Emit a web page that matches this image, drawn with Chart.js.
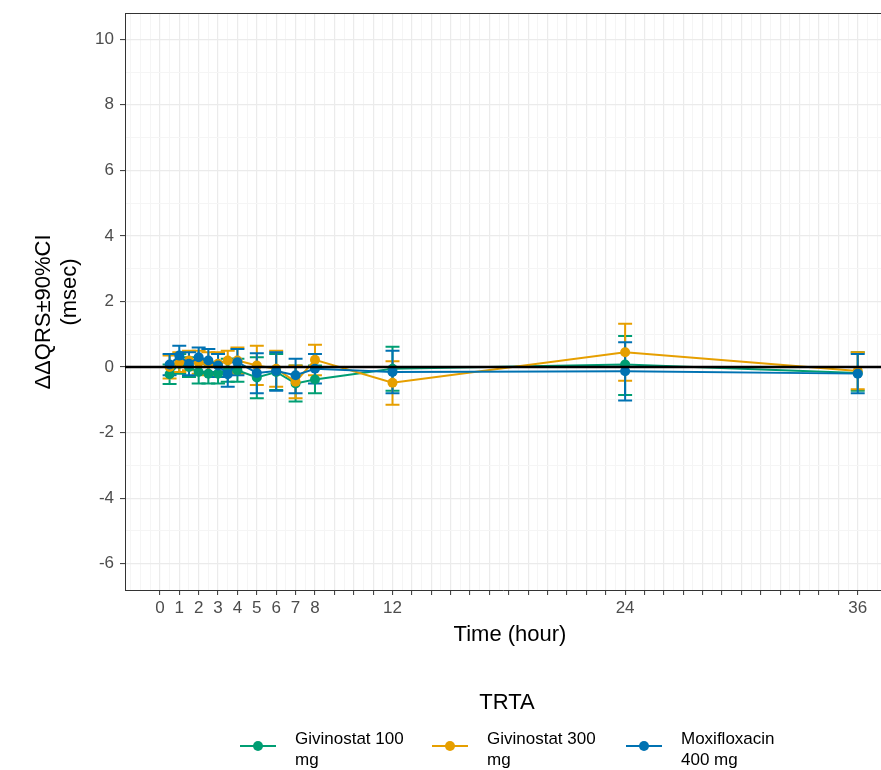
<!DOCTYPE html>
<html>
<head>
<meta charset="utf-8">
<script src="https://cdn.jsdelivr.net/npm/chart.js@4.4.1/dist/chart.umd.min.js"></script>
<style>
  body { margin: 0; background: #fff; }
  canvas { display: block; }
</style>
</head>
<body>
<canvas id="qrsChart" width="881" height="770"></canvas>
<script>
// time points (hour)
var times = [0.5, 1, 1.5, 2, 2.5, 3, 3.5, 4, 5, 6, 7, 8, 12, 24, 36];
var xTickLabels = [0, 1, 2, 3, 4, 5, 6, 7, 8, 12, 24, 36];
var yTickLabels = [-6, -4, -2, 0, 2, 4, 6, 8, 10];

// Givinostat 100 mg
var giv100Mean = [-0.22, 0.10, 0.00, -0.15, -0.20, -0.20, -0.10, -0.10, -0.32, -0.15, -0.50, -0.38, -0.05, 0.08, -0.18];
var giv100Lo   = [-0.52, -0.20, -0.30, -0.50, -0.50, -0.50, -0.45, -0.45, -0.95, -0.70, -1.05, -0.80, -0.72, -0.85, -0.72];
var giv100Hi   = [0.08, 0.40, 0.30, 0.20, 0.10, 0.15, 0.25, 0.25, 0.30, 0.40, 0.05, 0.05, 0.62, 0.95, 0.45];

// Givinostat 300 mg
var giv300Mean = [0.00, 0.15, 0.20, 0.15, 0.10, 0.10, 0.20, 0.20, 0.05, -0.05, -0.45, 0.22, -0.48, 0.45, -0.12];
var giv300Lo   = [-0.35, -0.15, -0.10, -0.20, -0.25, -0.20, -0.15, -0.20, -0.55, -0.60, -0.95, -0.25, -1.15, -0.42, -0.68];
var giv300Hi   = [0.35, 0.45, 0.50, 0.50, 0.45, 0.45, 0.50, 0.60, 0.65, 0.50, 0.05, 0.68, 0.18, 1.32, 0.45];

// Moxifloxacin 400 mg
var moxiMean = [0.08, 0.35, 0.10, 0.30, 0.20, 0.05, -0.22, 0.15, -0.18, -0.12, -0.25, -0.05, -0.15, -0.13, -0.20];
var moxiLo   = [-0.25, 0.05, -0.25, 0.00, -0.15, -0.30, -0.60, -0.25, -0.80, -0.72, -0.80, -0.50, -0.80, -1.02, -0.80];
var moxiHi   = [0.40, 0.65, 0.45, 0.60, 0.55, 0.40, 0.15, 0.55, 0.42, 0.45, 0.25, 0.40, 0.50, 0.76, 0.40];

var seriesNames = [['Givinostat 100', 'mg'], ['Givinostat 300', 'mg'], ['Moxifloxacin', '400 mg']];
var seriesColors = ['#009E73', '#E69F00', '#0072B2'];

var capHalf = 0.36;
var textFont = '"Liberation Sans", Arial, sans-serif';

function toPoints(vals) {
    return times.map(function (t, i) { return { x: t, y: vals[i] }; });
}

function makeSeries(idx, mean, lo, hi) {
    return {
        label: seriesNames[idx].join(' '),
        data: toPoints(mean),
        lo: lo,
        hi: hi,
        borderColor: seriesColors[idx],
        backgroundColor: seriesColors[idx],
        borderWidth: 2,
        pointRadius: 5,
        pointHoverRadius: 5,
        pointBorderWidth: 0,
        tension: 0,
        order: 3 - idx
    };
}

// error bars drawn under the lines and points
var errorBars = {
    id: 'errorBars',
    beforeDatasetsDraw: function (chart) {
        var ctx = chart.ctx, x = chart.scales.x, y = chart.scales.y;
        ctx.save();
        ctx.lineWidth = 2;
        chart.data.datasets.forEach(function (ds) {
            ctx.strokeStyle = ds.borderColor;
            ds.data.forEach(function (p, i) {
                var px = x.getPixelForValue(p.x);
                var x0 = x.getPixelForValue(p.x - capHalf);
                var x1 = x.getPixelForValue(p.x + capHalf);
                var yl = y.getPixelForValue(ds.lo[i]);
                var yh = y.getPixelForValue(ds.hi[i]);
                ctx.beginPath();
                ctx.moveTo(px, yl); ctx.lineTo(px, yh);
                ctx.moveTo(x0, yl); ctx.lineTo(x1, yl);
                ctx.moveTo(x0, yh); ctx.lineTo(x1, yh);
                ctx.stroke();
            });
        });
        ctx.restore();
    },
    afterDatasetsDraw: function (chart) {
        // reference line at 0
        var ctx = chart.ctx, a = chart.chartArea, y0 = chart.scales.y.getPixelForValue(0);
        ctx.save();
        ctx.strokeStyle = '#000';
        ctx.lineWidth = 2.5;
        ctx.beginPath();
        ctx.moveTo(a.left, y0); ctx.lineTo(a.right, y0);
        ctx.stroke();
        ctx.restore();
    }
};

// panel top border, titles and legend
var decorations = {
    id: 'decorations',
    afterDraw: function (chart) {
        var ctx = chart.ctx, a = chart.chartArea;
        ctx.save();
        ctx.strokeStyle = '#333';
        ctx.lineWidth = 1;
        ctx.beginPath();
        ctx.moveTo(a.left, a.top + 0.5); ctx.lineTo(a.right, a.top + 0.5);
        ctx.stroke();

        ctx.fillStyle = '#000';
        ctx.textAlign = 'center';
        ctx.textBaseline = 'middle';
        ctx.font = '22px ' + textFont;
        ctx.fillText('Time (hour)', 510, 635);

        ctx.save();
        ctx.translate(44, 312);
        ctx.rotate(-Math.PI / 2);
        ctx.fillText('ΔΔQRS±90%CI', 0, 0);
        ctx.restore();
        ctx.save();
        ctx.translate(70, 292);
        ctx.rotate(-Math.PI / 2);
        ctx.fillText('(msec)', 0, 0);
        ctx.restore();

        ctx.fillText('TRTA', 507, 703);

        var keyX = [240, 432, 626];
        ctx.font = '17px ' + textFont;
        ctx.textAlign = 'left';
        seriesNames.forEach(function (name, i) {
            var kx = keyX[i];
            ctx.strokeStyle = seriesColors[i];
            ctx.fillStyle = seriesColors[i];
            ctx.lineWidth = 2;
            ctx.beginPath();
            ctx.moveTo(kx, 746); ctx.lineTo(kx + 36, 746);
            ctx.stroke();
            ctx.beginPath();
            ctx.arc(kx + 18, 746, 5, 0, Math.PI * 2);
            ctx.fill();
            ctx.fillStyle = '#000';
            ctx.fillText(name[0], kx + 55, 739);
            ctx.fillText(name[1], kx + 55, 760);
        });
        ctx.restore();
    }
};

function halfSteps(from, to) {
    var out = [];
    for (var v = from; v <= to; v += 0.5) out.push({ value: v });
    return out;
}

function isMajorX(v) { return Number.isInteger(v) && v >= 0 && v <= 36; }

var ctx = document.getElementById('qrsChart').getContext('2d');
var qrsChart = new Chart(ctx, {
    type: 'line',
    data: {
        datasets: [
            makeSeries(0, giv100Mean, giv100Lo, giv100Hi),
            makeSeries(1, giv300Mean, giv300Lo, giv300Hi),
            makeSeries(2, moxiMean, moxiLo, moxiHi)
        ]
    },
    options: {
        responsive: false,
        animation: false,
        devicePixelRatio: 1,
        layout: { autoPadding: false, padding: { top: 13, left: 0, right: 0, bottom: 0 } },
        plugins: { legend: { display: false }, tooltip: { enabled: false } },
        scales: {
            x: {
                type: 'linear',
                min: -1.8,
                max: 37.2,
                afterBuildTicks: function (s) { s.ticks = halfSteps(-1.5, 37); },
                afterFit: function (s) {
                    s.height = 180;
                    s.paddingLeft = 0; s.paddingRight = 0;
                },
                grid: {
                    color: function (c) { return isMajorX(c.tick.value) ? '#ebebeb' : '#f5f5f5'; },
                    lineWidth: function (c) { return isMajorX(c.tick.value) ? 1.2 : 1; },
                    tickColor: function (c) { return isMajorX(c.tick.value) ? '#333' : 'rgba(0,0,0,0)'; },
                    tickLength: 5,
                    tickWidth: 1
                },
                border: { color: '#333', width: 1 },
                ticks: {
                    autoSkip: false,
                    maxRotation: 0,
                    padding: 3,
                    color: '#4d4d4d',
                    font: { family: textFont, size: 17 },
                    callback: function (v) { return xTickLabels.indexOf(v) >= 0 ? String(v) : ''; }
                }
            },
            y: {
                min: -6.8,
                max: 10.8,
                afterBuildTicks: function (s) {
                    var t = [];
                    for (var v = -6; v <= 10; v++) t.push({ value: v });
                    s.ticks = t;
                },
                afterFit: function (s) {
                    s.width = 125;
                    s.paddingTop = 0; s.paddingBottom = 0;
                },
                grid: {
                    color: function (c) { return c.tick.value % 2 === 0 ? '#ebebeb' : '#f5f5f5'; },
                    lineWidth: function (c) { return c.tick.value % 2 === 0 ? 1.2 : 1; },
                    tickColor: function (c) { return c.tick.value % 2 === 0 ? '#333' : 'rgba(0,0,0,0)'; },
                    tickLength: 5,
                    tickWidth: 1
                },
                border: { color: '#333', width: 1 },
                ticks: {
                    padding: 6,
                    color: '#4d4d4d',
                    font: { family: textFont, size: 17 },
                    callback: function (v) { return yTickLabels.indexOf(v) >= 0 ? String(v) : ''; }
                }
            }
        }
    },
    plugins: [errorBars, decorations]
});
</script>
</body>
</html>
